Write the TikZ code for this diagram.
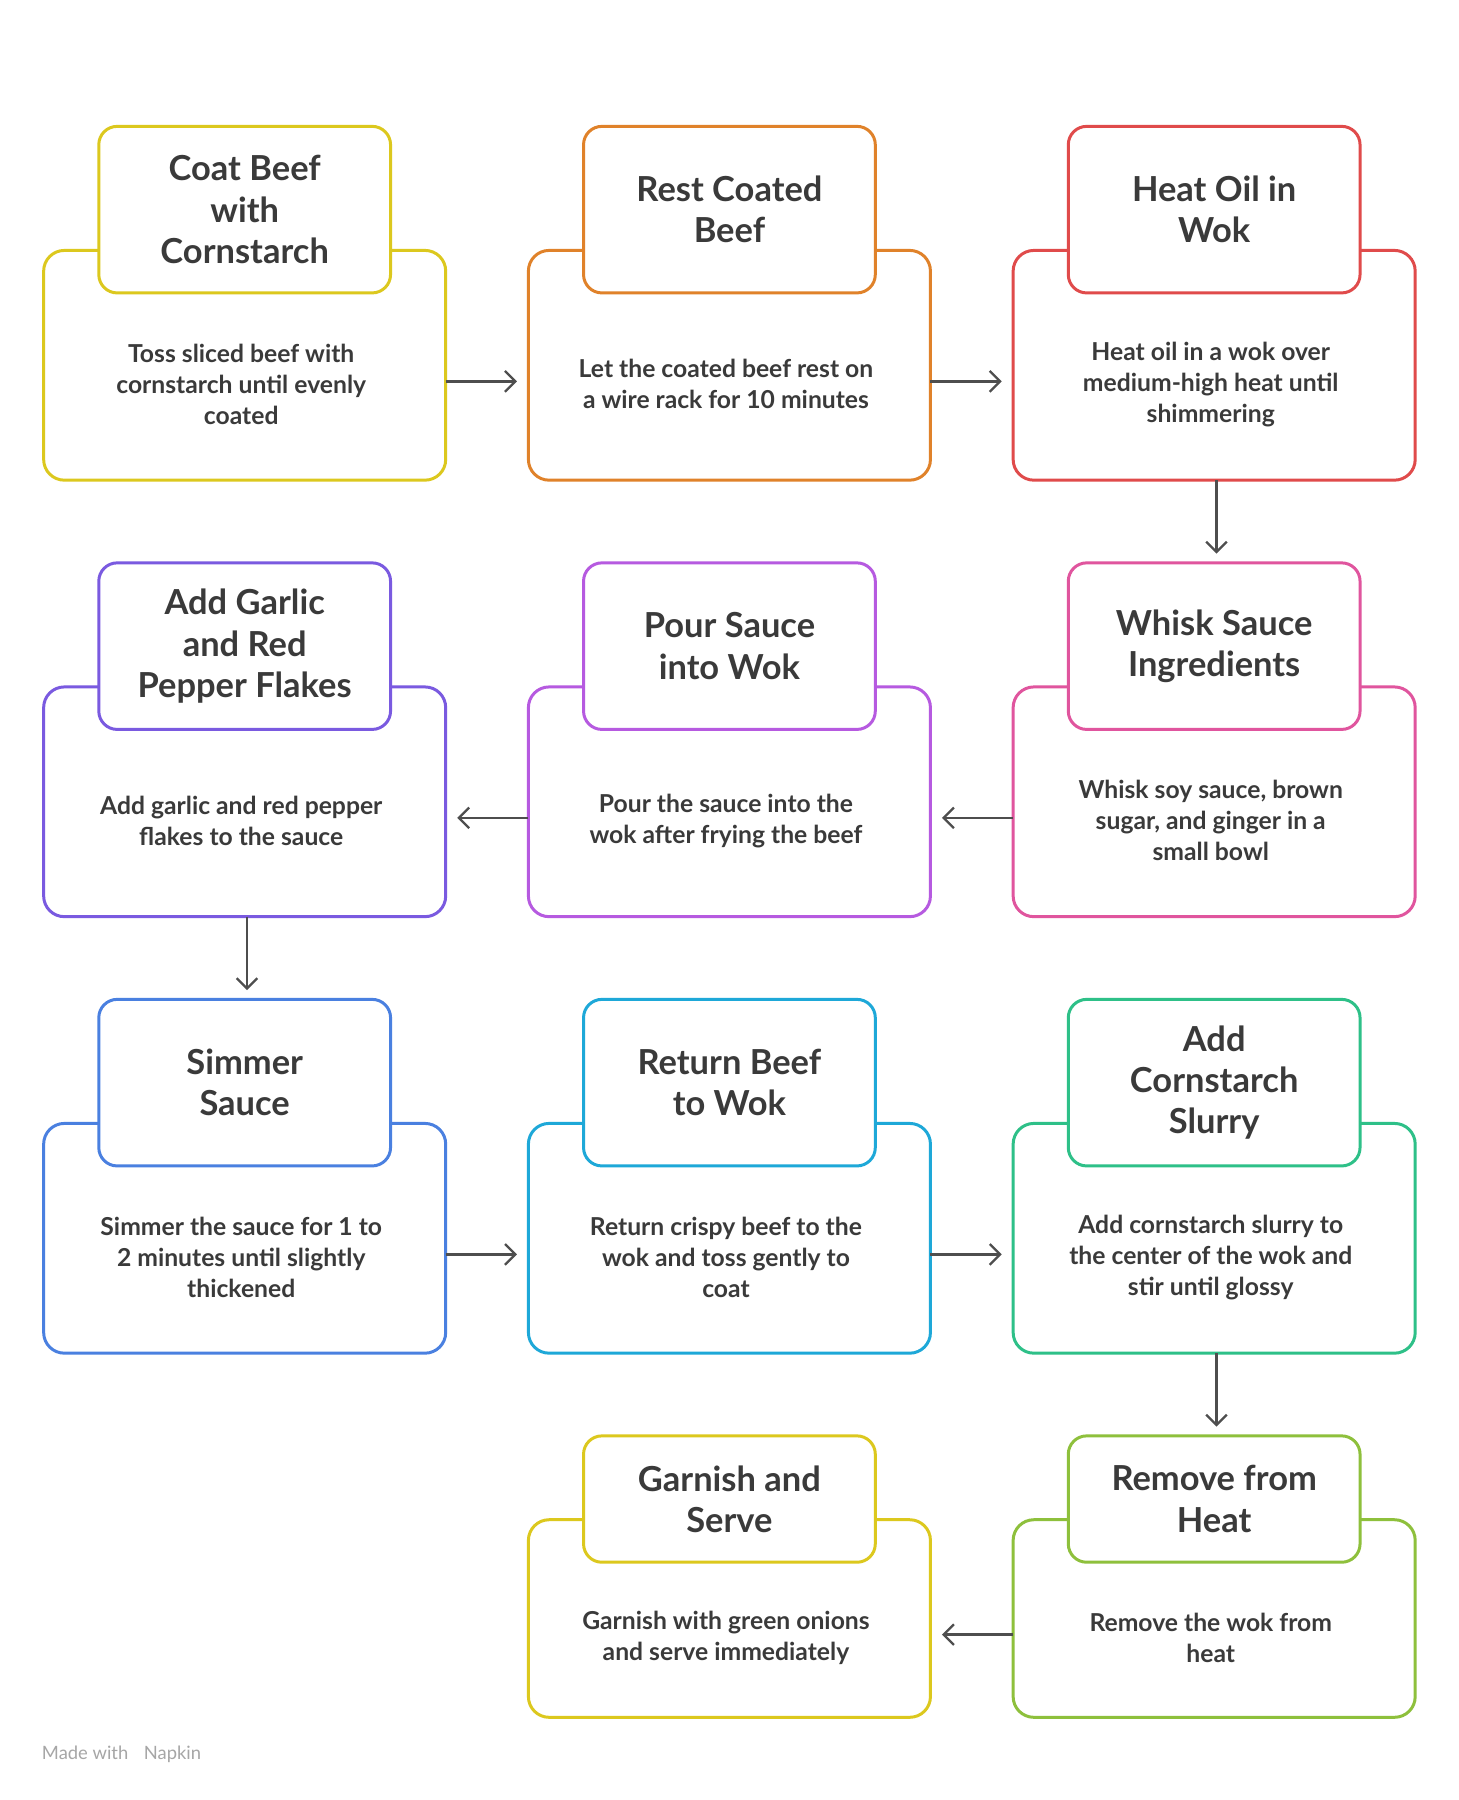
\documentclass[tikz,border=0pt]{standalone}
\usepackage{fontspec}
\setmainfont{Lato}
\usetikzlibrary{arrows.meta}
\definecolor{cY}{HTML}{DCC81E}
\definecolor{cO}{HTML}{E0822A}
\definecolor{cR}{HTML}{E04B4B}
\definecolor{cP}{HTML}{7A5AE0}
\definecolor{cV}{HTML}{B65AE0}
\definecolor{cK}{HTML}{E0559E}
\definecolor{cB}{HTML}{4A80E0}
\definecolor{cC}{HTML}{1EA8D8}
\definecolor{cG}{HTML}{2EC088}
\definecolor{cL}{HTML}{8EC03C}
\definecolor{txt}{HTML}{3A3A3A}
\tikzset{
 outerbox/.style={draw=#1,line width=2.6pt,rounded corners=18pt,fill=white},
 titlebox/.style={draw=#1,line width=2.6pt,rounded corners=16pt,fill=white},
 ttl/.style={text=txt,font=\fontsize{30}{36}\selectfont\bfseries,align=center},
 bdy/.style={text=txt,font=\fontsize{21.5}{27}\selectfont\bfseries,align=center},
 arr/.style={-{Straight Barb[length=9pt,width=18pt]},line width=2pt,draw=txt!90}
}
\newcommand{\stepbox}[9]{% name, color, x, outer top, outer bottom, title top, title bottom, title, body
 \draw[outerbox=#2] (#3,#4) rectangle ++(350,#5-#4);
 \draw[titlebox=#2] (#3+48,#6) rectangle ++(254,#7-#6);
 \node[ttl] (#1t) at (#3+175,{(#6+#7)/2}) {#8};
 \node[bdy] (#1) at (#3+172,{(#7+#5)/2-2}) {#9};
 \coordinate (#1L) at (#3,{(#7+#5)/2});
 \coordinate (#1R) at (#3+350,{(#7+#5)/2});
 \coordinate (#1T) at (#3+175+2,#4);
 \coordinate (#1B) at (#3+175+2,#5);
}
\begin{document}
\begin{tikzpicture}[x=1pt,y=-1pt]
\useasboundingbox (0,0) rectangle (1270,1567);
\fill[white] (0,0) rectangle (1270,1567);
\stepbox{a}{cY}{38}{218}{418}{110}{255}{Coat Beef\\with\\Cornstarch}{Toss sliced beef with\\cornstarch until evenly\\coated}
\stepbox{b}{cO}{460}{218}{418}{110}{255}{Rest Coated\\Beef}{Let the coated beef rest on\\a wire rack for 10 minutes}
\stepbox{c}{cR}{882}{218}{418}{110}{255}{Heat Oil in\\Wok}{Heat oil in a wok over\\medium-high heat until\\shimmering}
\stepbox{d}{cP}{38}{598}{798}{490}{635}{Add Garlic\\and Red\\Pepper Flakes}{Add garlic and red pepper\\flakes to the sauce}
\stepbox{e}{cV}{460}{598}{798}{490}{635}{Pour Sauce\\into Wok}{Pour the sauce into the\\wok after frying the beef}
\stepbox{f}{cK}{882}{598}{798}{490}{635}{Whisk Sauce\\Ingredients}{Whisk soy sauce, brown\\sugar, and ginger in a\\small bowl}
\stepbox{g}{cB}{38}{978}{1178}{870}{1015}{Simmer\\Sauce}{Simmer the sauce for 1 to\\2 minutes until slightly\\thickened}
\stepbox{h}{cC}{460}{978}{1178}{870}{1015}{Return Beef\\to Wok}{Return crispy beef to the\\wok and toss gently to\\coat}
\stepbox{i}{cG}{882}{978}{1178}{870}{1015}{Add\\Cornstarch\\Slurry}{Add cornstarch slurry to\\the center of the wok and\\stir until glossy}
\stepbox{j}{cY}{460}{1323}{1495}{1250}{1360}{Garnish and\\Serve}{Garnish with green onions\\and serve immediately}
\stepbox{k}{cL}{882}{1323}{1495}{1250}{1360}{Remove from\\Heat}{Remove the wok from\\heat}
\draw[arr] (aR|-0,332) -- ++(62,0);
\draw[arr] (bR|-0,332) -- ++(62,0);
\draw[arr] (cB) -- ++(0,64);
\draw[arr] (fL|-0,712) -- ++(-62,0);
\draw[arr] (eL|-0,712) -- ++(-62,0);
\draw[arr] (dB) -- ++(0,64);
\draw[arr] (gR|-0,1092) -- ++(62,0);
\draw[arr] (hR|-0,1092) -- ++(62,0);
\draw[arr] (iB) -- ++(0,64);
\draw[arr] (kL|-0,1423) -- ++(-62,0);
\node[anchor=west,text=gray!70,font=\fontsize{16}{18}\selectfont] (foot) at (33,1527) {Made with \,\, Napkin};
\end{tikzpicture}
\end{document}
